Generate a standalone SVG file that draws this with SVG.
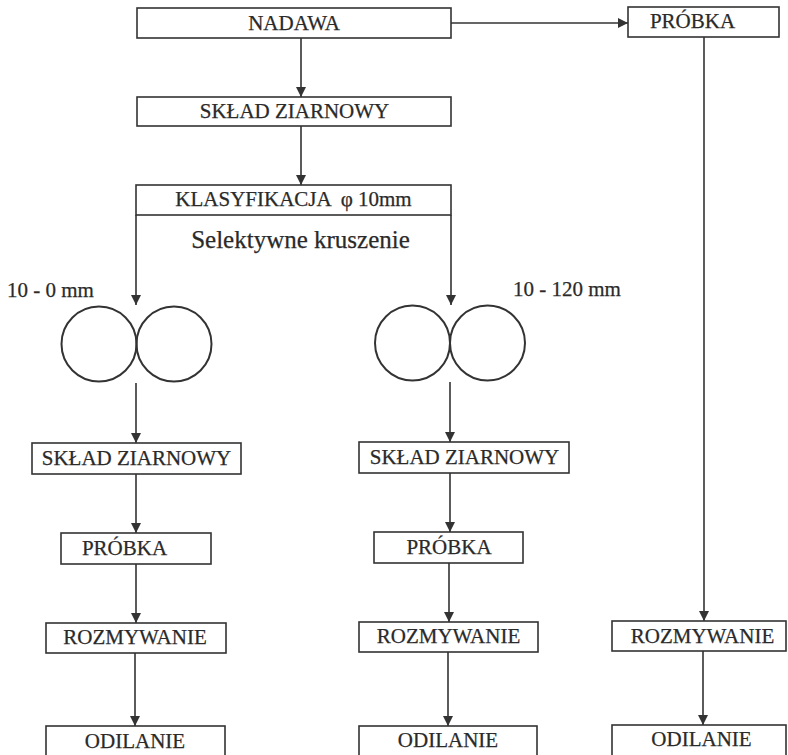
<svg xmlns="http://www.w3.org/2000/svg" width="788" height="755" viewBox="0 0 788 755">
<defs>
<style>
.box{fill:none;stroke:#333;stroke-width:1.6}
.t{font-family:"Liberation Serif","Times New Roman",serif;font-size:21px;fill:#2a2a2a;text-anchor:middle;stroke:#2a2a2a;stroke-width:0.25}
.tl{font-family:"Liberation Serif","Times New Roman",serif;font-size:21px;fill:#2a2a2a;stroke:#2a2a2a;stroke-width:0.25}
.c{fill:none;stroke:#333;stroke-width:2}
.e{fill:none;stroke:#333;stroke-width:1.6}
</style>
<marker id="ah" markerUnits="userSpaceOnUse" markerWidth="10" markerHeight="12" refX="10" refY="5" orient="auto">
<path d="M0,0 L10,5 L0,10 Z" fill="#333"/>
</marker>
</defs>
<rect width="788" height="755" fill="#fff"/>
<g id="connectors">
<line class="e" x1="301" y1="38" x2="301" y2="97" marker-end="url(#ah)"/>
<line class="e" x1="301" y1="126" x2="301" y2="185" marker-end="url(#ah)"/>
<line class="e" x1="451" y1="23" x2="628" y2="23" marker-end="url(#ah)"/>
<line class="e" x1="136" y1="215" x2="136" y2="305" marker-end="url(#ah)"/>
<line class="e" x1="451" y1="215" x2="451" y2="305" marker-end="url(#ah)"/>
<line class="e" x1="136" y1="383" x2="136" y2="443" marker-end="url(#ah)"/>
<line class="e" x1="450" y1="382" x2="450" y2="442" marker-end="url(#ah)"/>
<line class="e" x1="136" y1="474" x2="136" y2="533" marker-end="url(#ah)"/>
<line class="e" x1="136" y1="564" x2="136" y2="623" marker-end="url(#ah)"/>
<line class="e" x1="135" y1="653" x2="135" y2="726" marker-end="url(#ah)"/>
<line class="e" x1="450" y1="473" x2="450" y2="532" marker-end="url(#ah)"/>
<line class="e" x1="449" y1="563" x2="449" y2="622" marker-end="url(#ah)"/>
<line class="e" x1="448" y1="652" x2="448" y2="726" marker-end="url(#ah)"/>
<line class="e" x1="704" y1="37" x2="704" y2="621" marker-end="url(#ah)"/>
<line class="e" x1="703" y1="651" x2="703" y2="725" marker-end="url(#ah)"/>
</g>
<g id="nadawa"><rect class="box" x="137" y="8" width="314" height="30"/><text class="t" x="294" y="30">NADAWA</text></g>
<g id="sklad-top"><rect class="box" x="137" y="97" width="314" height="29"/><text class="t" x="294.5" y="118">SKŁAD ZIARNOWY</text></g>
<g id="klasyfikacja"><rect class="box" x="136" y="185" width="315" height="30"/><text class="t" x="293.5" y="206">KLASYFIKACJA<tspan dx="9">φ 10mm</tspan></text></g>
<g id="selektywne"><text class="t" x="300.5" y="248" style="font-size:25px">Selektywne kruszenie</text></g>
<g id="probka-top"><rect class="box" x="628" y="7" width="151" height="30"/><text class="t" x="692.5" y="28">PRÓBKA</text></g>
<g id="label-10-0"><text class="tl" x="7" y="297">10 - 0 mm</text></g>
<g id="label-10-120"><text class="tl" x="513" y="296">10 - 120 mm</text></g>
<g id="kruszarka-left"><circle class="c" cx="99" cy="344" r="37.5"/><circle class="c" cx="174" cy="344" r="37.5"/></g>
<g id="kruszarka-mid"><circle class="c" cx="412.5" cy="343" r="37.5"/><circle class="c" cx="487.5" cy="343" r="37.5"/></g>
<g id="sklad-left"><rect class="box" x="32" y="443" width="209" height="31"/><text class="t" x="136.5" y="465">SKŁAD ZIARNOWY</text></g>
<g id="probka-left"><rect class="box" x="61" y="533" width="150" height="31"/><text class="t" x="124.5" y="555">PRÓBKA</text></g>
<g id="rozmywanie-left"><rect class="box" x="46" y="623" width="180" height="30"/><text class="t" x="135" y="644">ROZMYWANIE</text></g>
<g id="odilanie-left"><rect class="box" x="46" y="726" width="179" height="40"/><text class="t" x="135" y="748">ODILANIE</text></g>
<g id="sklad-mid"><rect class="box" x="359" y="442" width="210" height="31"/><text class="t" x="464.5" y="464">SKŁAD ZIARNOWY</text></g>
<g id="probka-mid"><rect class="box" x="374" y="532" width="149" height="31"/><text class="t" x="449" y="554">PRÓBKA</text></g>
<g id="rozmywanie-mid"><rect class="box" x="359" y="622" width="179" height="30"/><text class="t" x="448.5" y="643">ROZMYWANIE</text></g>
<g id="odilanie-mid"><rect class="box" x="359" y="726" width="178" height="40"/><text class="t" x="448" y="747">ODILANIE</text></g>
<g id="rozmywanie-right"><rect class="box" x="612" y="621" width="174" height="30"/><text class="t" x="702.5" y="643">ROZMYWANIE</text></g>
<g id="odilanie-right"><rect class="box" x="612" y="725" width="174" height="40"/><text class="t" x="701.5" y="746">ODILANIE</text></g>
</svg>
